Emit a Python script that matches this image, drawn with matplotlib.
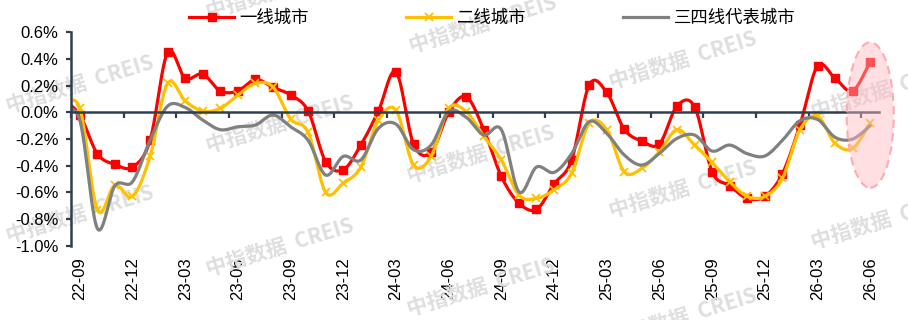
import numpy as np
import matplotlib
matplotlib.use('Agg')
import matplotlib.pyplot as plt
from matplotlib.patches import Ellipse
from matplotlib.lines import Line2D

# ---------------- data ----------------
months = ['22-08', '22-09', '22-10', '22-11', '22-12', '23-01', '23-02', '23-03', '23-04',
          '23-05', '23-06', '23-07', '23-08', '23-09', '23-10', '23-11', '23-12',
          '24-01', '24-02', '24-03', '24-04', '24-05', '24-06', '24-07', '24-08',
          '24-09', '24-10', '24-11', '24-12', '25-01', '25-02', '25-03', '25-04',
          '25-05', '25-06', '25-07', '25-08', '25-09', '25-10', '25-11', '25-12',
          '26-01', '26-02', '26-03', '26-04', '26-05', '26-06']

tier1 = [0.10, -0.02, -0.31, -0.39, -0.41, -0.21, 0.45, 0.255, 0.287, 0.16, 0.16,
         0.247, 0.187, 0.13, 0.01, -0.37, -0.43, -0.245, 0.01, 0.304, -0.237, -0.30,
         0.0, 0.117, -0.13, -0.48, -0.68, -0.727, -0.537, -0.357, 0.205, 0.15,
         -0.127, -0.215, -0.237, 0.047, 0.042, -0.445, -0.55, -0.645, -0.63, -0.46,
         -0.095, 0.347, 0.255, 0.16, 0.38]

tier2 = [0.05, 0.03, -0.73, -0.545, -0.63, -0.33, 0.217, 0.085, 0.01, 0.03, 0.13,
         0.217, 0.19, -0.05, -0.15, -0.60, -0.53, -0.41, -0.06, 0.017, -0.395, -0.33,
         0.03, 0.005, -0.18, -0.357, -0.62, -0.645, -0.58, -0.457, -0.082, -0.13,
         -0.445, -0.42, -0.295, -0.13, -0.245, -0.375, -0.52, -0.63, -0.63, -0.495,
         -0.13, -0.028, -0.232, -0.27, -0.078]

tier34 = [0.0, -0.058, -0.87, -0.55, -0.52, -0.21, 0.047, 0.037, -0.058, -0.13, -0.108,
          -0.095, -0.02, -0.108, -0.21, -0.47, -0.33, -0.357, -0.12, -0.088, -0.28,
          -0.245, 0.005, -0.037, -0.17, -0.13, -0.595, -0.41, -0.45, -0.31, -0.07,
          -0.157, -0.32, -0.395, -0.307, -0.195, -0.17, -0.29, -0.245, -0.31, -0.327,
          -0.21, -0.063, -0.053, -0.187, -0.2, -0.1]

series_names = ['一线城市', '二线城市', '三四线代表城市']
label_months = ['22-09', '22-12', '23-03', '23-06', '23-09', '23-12', '24-03', '24-06',
                '24-09', '24-12', '25-03', '25-06', '25-09', '25-12', '26-03', '26-06']
y_ticks = [-1.0, -0.8, -0.6, -0.4, -0.2, 0.0, 0.2, 0.4, 0.6]
highlight_month = '26-06'

# ---------------- helpers ----------------
def smooth(xs, ys, n=24):
    P = np.column_stack([np.asarray(xs, float), np.asarray(ys, float)])
    out = [P[0]]
    t = np.linspace(0, 1, n)[1:, None]
    for i in range(len(P) - 1):
        p0 = P[i - 1] if i > 0 else P[i]
        p3 = P[i + 2] if i + 2 < len(P) else P[i + 1]
        c1 = P[i] + (P[i + 1] - p0) / 6.0
        c2 = P[i + 1] - (p3 - P[i]) / 6.0
        seg = ((1 - t) ** 3) * P[i] + 3 * ((1 - t) ** 2) * t * c1 + 3 * (1 - t) * t ** 2 * c2 + t ** 3 * P[i + 1]
        out.extend(seg)
    out = np.array(out)
    return out[:, 0], out[:, 1]

CJK = ['Noto Sans CJK SC', 'DejaVu Sans']
LAT = ['Liberation Sans', 'DejaVu Sans']
axis_col = '#2E4050'

W, H = 908, 320
fig = plt.figure(figsize=(W / 100, H / 100), dpi=100)
ax_left, ax_right, ax_top, ax_bot = 71, 879, 32.3, 245.8
ax = fig.add_axes([ax_left / W, 1 - ax_bot / H, (ax_right - ax_left) / W, (ax_bot - ax_top) / H])
ax.patch.set_alpha(0)

x = np.arange(len(months))

# watermarks
wm_centers = [(80, 84), (80, 214), (280, -10), (280, 124), (280, 247),
              (483, 24), (481, 154), (481, 287), (683, 60), (683, 189), (683, 317),
              (885, 90), (885, 220)]
for cx, cy in wm_centers:
    ax.text(cx / W, 1 - cy / H, '中指数据  CREIS', transform=fig.transFigure,
            ha='center', va='center', rotation=17, fontsize=15, fontweight='bold',
            color='#DEDEDE', family=CJK, zorder=0.5, clip_on=False)

colors = ['#FF0000', '#FFC000', '#808080']
data = [tier1, tier2, tier34]
markers = ['s', 'x', None]
handles = []
for vals, col, mk, name, z in zip(data, colors, markers, series_names, [2.1, 2.2, 2.3]):
    sx, sy = smooth(x, vals)
    ax.plot(sx, sy, color=col, lw=2.3, zorder=z, solid_capstyle='round', solid_joinstyle='round')
    if mk == 's':
        ax.plot(x, vals, ls='none', marker='s', ms=5.8, color=col, zorder=z)
    elif mk == 'x':
        ax.plot(x, vals, ls='none', marker='x', ms=5.5, mew=1.3, color=col, zorder=z)
    handles.append(Line2D([], [], color=col, lw=2.3, marker=mk if mk else None,
                          ms=5.8 if mk else 0, mew=1.3 if mk == 'x' else 1, label=name))

# highlight ellipse
hi = months.index(highlight_month)
ell = Ellipse((x[hi], -0.02), width=2.68, height=1.09, facecolor=(1.0, 0.72, 0.75, 0.45),
              edgecolor='#FFAAB4', lw=1.5, ls=(0, (4, 2.5)), zorder=3, clip_on=False)
ax.add_patch(ell)

ax.set_xlim(0.5, len(months) - 0.5)
ax.set_ylim(-1.0, 0.6)

for s in ['top', 'right']:
    ax.spines[s].set_visible(False)
ax.spines['bottom'].set_position(('data', 0))
ax.spines['bottom'].set_color(axis_col)
ax.spines['bottom'].set_linewidth(1.8)
ax.spines['left'].set_color(axis_col)
ax.spines['left'].set_linewidth(1.8)

# tick marks at category boundaries every 3 months
ax.set_xticks(np.arange(0.5, len(months) - 1, 3))
ax.tick_params(axis='x', direction='out', length=4, width=1.6, color=axis_col, labelbottom=False)

ax.set_yticks(y_ticks)
ax.set_yticklabels([f'{v:.1f}%' for v in y_ticks], family=LAT, fontsize=12)
ax.tick_params(axis='y', direction='out', length=3.5, width=1.6, color=axis_col, pad=5.5)

sec = ax.secondary_xaxis(0)
sec.set_xticks([months.index(m) for m in label_months])
sec.set_xticklabels(label_months, rotation=90, family=LAT, fontsize=12)
sec.tick_params(length=0, pad=8.5)
sec.spines['bottom'].set_visible(False)

fig.legend(handles=handles, loc='center', bbox_to_anchor=(492 / W, 1 - 18 / H), ncol=3,
           frameon=False, prop={'family': CJK, 'size': 12.5}, handlelength=2.6,
           handletextpad=0.3, columnspacing=5.6, borderaxespad=0)

fig.savefig('out.png', dpi=100)
